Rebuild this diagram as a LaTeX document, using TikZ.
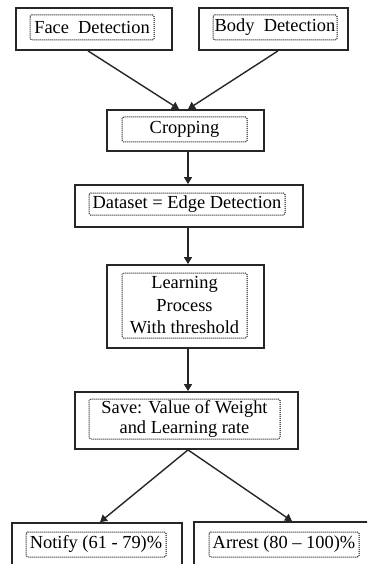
\documentclass[tikz,border=0pt]{standalone}
\usepackage{fontspec}
\setmainfont{Liberation Serif}
\usetikzlibrary{arrows.meta,calc}
\begin{document}
\begin{tikzpicture}[x=1pt,y=-1pt,
  outerbox/.style={draw=black!85,line width=1.8pt,minimum width=#1,inner sep=0pt,rectangle},
  innerbox/.style={draw=black,dash pattern=on 1pt off 1pt,line width=1pt,rounded corners=1.5pt,inner sep=0pt,align=center,font=\fontsize{18.4}{22}\selectfont},
  arr/.style={draw=black!85,line width=1.4pt,-{Triangle[width=8pt,length=7pt]}}]
\useasboundingbox (0,0) rectangle (367,564);
\clip (0,0) rectangle (367,564);
% Face
\node[outerbox=156pt,minimum height=42pt] (face) at (94,29) {};
\node[innerbox,minimum width=124pt,minimum height=25pt] (facet) at (92,27.5) {Face\hspace{0.5em}Detection};
% Body
\node[outerbox=149pt,minimum height=42pt] (body) at (273.5,29) {};
\node[innerbox,minimum width=124pt,minimum height=25pt] (bodyt) at (275,27.5) {Body\hspace{0.5em}Detection};
% Cropping
\node[outerbox=157pt,minimum height=41pt] (crop) at (185.5,130.5) {};
\node[innerbox,minimum width=125pt,minimum height=25pt] (cropt) at (184.5,129.5) {Cropping};
% Dataset
\node[outerbox=228pt,minimum height=42pt] (data) at (189,206) {};
\node[innerbox,minimum width=196pt,minimum height=22pt] (datat) at (187,204) {Dataset = Edge Detection};
% Learning
\node[outerbox=157pt,minimum height=83pt] (learn) at (185.5,306.5) {};
\node[innerbox,minimum width=125pt,minimum height=65pt,font=\fontsize{18.4}{22.5}\selectfont] (learnt) at (184.5,305.5) {Learning\\Process\\With threshold};
% Save
\node[outerbox=223pt,minimum height=57pt] (save) at (186.5,420.5) {};
\node[innerbox,minimum width=191pt,minimum height=40pt,font=\fontsize{18.4}{20.5}\selectfont] (savet) at (184.5,419) {Save: Value of Weight\\and Learning rate};
% Notify
\node[outerbox=170pt,minimum height=60pt] (notify) at (97,553) {};
\node[innerbox,minimum width=140pt,minimum height=25pt] (notifyt) at (96,544.5) {Notify (61 - 79)\%};
% Arrest
\node[outerbox=190pt,minimum height=60pt] (arrest) at (289,552) {};
\node[innerbox,minimum width=150pt,minimum height=25pt] (arrestt) at (284,544.5) {Arrest (80 -- 100)\%};
% connectors
\draw[arr] ([xshift=-6pt]face.south) -- ([xshift=-6.5pt]crop.north);
\draw[arr] ([xshift=4.5pt]body.south) -- ([xshift=2.5pt]crop.north);
\draw[arr] ([xshift=2.5pt]crop.south) -- ([xshift=2.5pt]crop.south |- data.north);
\draw[arr] ([xshift=-1pt]data.south) -- ([xshift=-1pt]data.south |- learn.north);
\draw[arr] ([xshift=2.5pt]learn.south) -- ([xshift=2.5pt]learn.south |- save.north);
\draw[arr] ([xshift=1.5pt]save.south) -- ([xshift=3pt]notify.north);
\draw[arr] ([xshift=1.5pt]save.south) -- ([xshift=3pt]arrest.north);
\end{tikzpicture}
\end{document}
